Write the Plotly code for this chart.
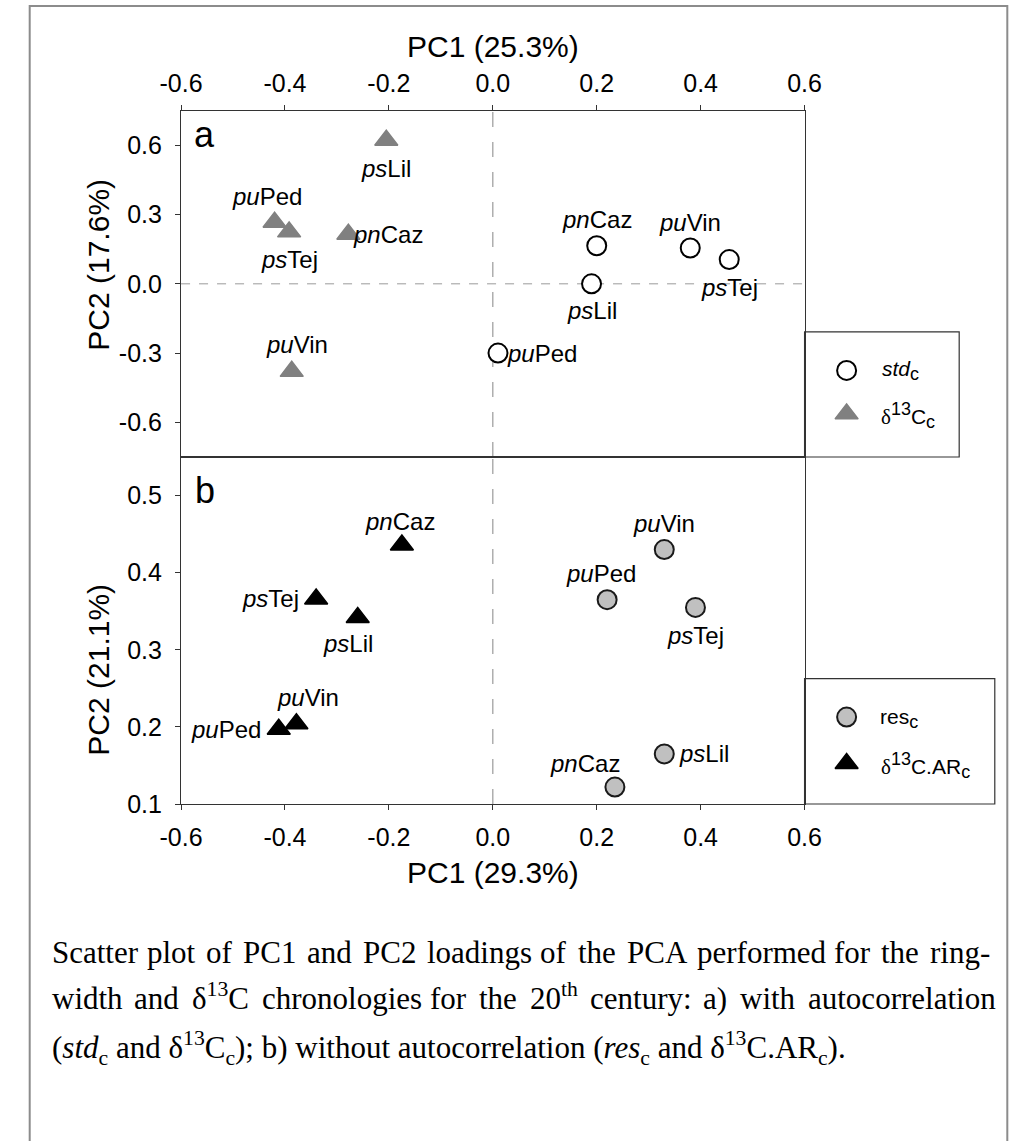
import re
import plotly.graph_objects as go

W, H = 1032, 1141

# ---- PCA loadings, panel a (with autocorrelation) ----
std_sites = ["pnCaz", "psLil", "puVin", "psTej", "puPed"]
std_pc1 = [0.20, 0.19, 0.38, 0.455, 0.01]
std_pc2 = [0.165, 0.00, 0.155, 0.105, -0.30]

d13_sites = ["psLil", "puPed", "psTej", "pnCaz", "puVin"]
d13_pc1 = [-0.205, -0.420, -0.392, -0.278, -0.387]
d13_pc2 = [0.622, 0.267, 0.225, 0.215, -0.379]

# ---- PCA loadings, panel b (without autocorrelation) ----
res_sites = ["puVin", "puPed", "psTej", "psLil", "pnCaz"]
res_pc1 = [0.33, 0.22, 0.39, 0.33, 0.235]
res_pc2 = [0.43, 0.365, 0.355, 0.165, 0.122]

ar_sites = ["pnCaz", "psTej", "psLil", "puVin", "puPed"]
ar_pc1 = [-0.175, -0.340, -0.260, -0.378, -0.412]
ar_pc2 = [0.436, 0.366, 0.342, 0.204, 0.197]

pc1_ticks = [-0.6, -0.4, -0.2, 0.0, 0.2, 0.4, 0.6]
pc1_labels = ["-0.6", "-0.4", "-0.2", "0.0", "0.2", "0.4", "0.6"]
pc2a_ticks = [-0.6, -0.3, 0.0, 0.3, 0.6]
pc2a_labels = ["-0.6", "-0.3", "0.0", "0.3", "0.6"]
pc2b_ticks = [0.1, 0.2, 0.3, 0.4, 0.5]
pc2b_labels = ["0.1", "0.2", "0.3", "0.4", "0.5"]

# label offsets in pixels (dx, dy; dy positive = upwards)
std_off = [(0, 26), (0, -27), (0, 26), (0, -28), (44, 0)]
d13_off = [(0, -28), (-8, 26), (0, -28), (40, 0), (5, 27)]
res_off = [(0, 26), (-6, 26), (0, -28), (40, 0), (-30, 24)]
ar_off = [(-2, 23), (-46, 0), (-10, -26), (12, 26), (-53, 0)]

SANS = "Liberation Sans, Arial, sans-serif"
SERIF = "Liberation Serif, Times New Roman, serif"

# Times-compatible advance widths (1/1000 em) used to justify the caption
TW = {" ": 250, "a": 444, "b": 500, "c": 444, "d": 500, "e": 444, "f": 333, "g": 500,
      "h": 500, "i": 278, "j": 278, "k": 500, "l": 278, "m": 778, "n": 500, "o": 500,
      "p": 500, "q": 500, "r": 333, "s": 389, "t": 278, "u": 500, "v": 500, "w": 722,
      "x": 500, "y": 500, "z": 444, "A": 722, "C": 667, "P": 556, "R": 667, "S": 556,
      "-": 333, ":": 278, ";": 278, "(": 333, ")": 333, ".": 250, "δ": 494}


def px(x):
    return x / W


def py(y):
    return 1 - y / H


def site_label(s):
    return "<i>%s</i>%s" % (s[:2], s[2:])


def serif_width(word, size):
    total = 0.0
    for part in re.split(r"(<sup>.*?</sup>)", word):
        if part.startswith("<sup>"):
            txt, k = part[5:-6], 0.7
        else:
            txt, k = re.sub(r"<[^>]+>", "", part), 1.0
        total += sum(TW.get(ch, 500) for ch in txt) * k
    return total * size / 1000.0


# plot frame in pixels
X0, X1 = 165.3, 813.3
YA0, YA1 = 112.0, 462.7
YB0, YB1 = 462.7, 814.0

fig = go.Figure()

circle_std = dict(symbol="circle", size=19, color="white", line=dict(color="black", width=2))
tri_d13 = dict(symbol="triangle-up", size=20, color="#808080", line=dict(color="#808080", width=1.5))
circle_res = dict(symbol="circle", size=19, color="#c0c0c0", line=dict(color="#1a1a1a", width=2))
tri_ar = dict(symbol="triangle-up", size=20, color="black", line=dict(color="black", width=1.5))

fig.add_trace(go.Scatter(x=d13_pc1, y=d13_pc2, mode="markers", marker=tri_d13,
                         xaxis="x", yaxis="y", showlegend=False, cliponaxis=False))
fig.add_trace(go.Scatter(x=std_pc1, y=std_pc2, mode="markers", marker=circle_std,
                         xaxis="x", yaxis="y", showlegend=False, cliponaxis=False))
fig.add_trace(go.Scatter(x=ar_pc1, y=ar_pc2, mode="markers", marker=tri_ar,
                         xaxis="x2", yaxis="y2", showlegend=False, cliponaxis=False))
fig.add_trace(go.Scatter(x=res_pc1, y=res_pc2, mode="markers", marker=circle_res,
                         xaxis="x2", yaxis="y2", showlegend=False, cliponaxis=False))

# legend symbols on a full-page pixel axis
fig.add_trace(go.Scatter(x=[857], y=[375], mode="markers", marker=circle_std,
                         xaxis="x3", yaxis="y3", showlegend=False))
fig.add_trace(go.Scatter(x=[857], y=[419], mode="markers", marker=tri_d13,
                         xaxis="x3", yaxis="y3", showlegend=False))
fig.add_trace(go.Scatter(x=[857], y=[726], mode="markers", marker=circle_res,
                         xaxis="x3", yaxis="y3", showlegend=False))
fig.add_trace(go.Scatter(x=[857], y=[773], mode="markers", marker=tri_ar,
                         xaxis="x3", yaxis="y3", showlegend=False))

ann = []


def add_labels(sites, xs, ys, offs, xr, yr):
    for s, x, y, (dx, dy) in zip(sites, xs, ys, offs):
        ann.append(dict(x=x, y=y, xref=xr, yref=yr, text=site_label(s), showarrow=False,
                        xshift=dx, yshift=dy, font=dict(family=SANS, size=24, color="black")))


add_labels(std_sites, std_pc1, std_pc2, std_off, "x", "y")
add_labels(d13_sites, d13_pc1, d13_pc2, d13_off, "x", "y")
add_labels(res_sites, res_pc1, res_pc2, res_off, "x2", "y2")
add_labels(ar_sites, ar_pc1, ar_pc2, ar_off, "x2", "y2")


def page_text(x, y, text, size, family=SANS, xanchor="center", yanchor="middle", angle=0):
    ann.append(dict(x=px(x), y=py(y), xref="paper", yref="paper", text=text, showarrow=False,
                    xanchor=xanchor, yanchor=yanchor, textangle=angle, borderpad=0,
                    font=dict(family=family, size=size, color="black")))


page_text((X0 + X1) / 2, 47, "PC1 (25.3%)", 30)
page_text((X0 + X1) / 2, 883, "PC1 (29.3%)", 30)
page_text(80, 268, "PC2 (17.6%)", 30, angle=-90)
page_text(80, 678, "PC2 (21.1%)", 30, angle=-90)
page_text(190, 136, "a", 36)
page_text(190, 497, "b", 36)

small = '<span style="font-size:18px">%s</span>'
delta = '<span style="font-family:Liberation Serif">δ</span>'
page_text(893, 375, "<i>std</i><sub>" + small % "c" + "</sub>", 21, xanchor="left")
page_text(892, 421, delta + "<sup>" + small % "13" + "</sup>C<sub>" + small % "c" + "</sub>",
          21, xanchor="left")
page_text(891, 727, "res<sub>" + small % "c" + "</sub>", 21, xanchor="left")
page_text(892, 775, delta + "<sup>" + small % "13" + "</sup>C.AR<sub>" + small % "c" + "</sub>",
          21, xanchor="left")

# caption: first two lines justified between the margins, last line left aligned
CAP_SIZE = 31
CAP_LEFT, CAP_RIGHT = 30, 1003
cap_justified = [
    "Scatter plot of PC1 and PC2 loadings of the PCA performed for the ring-",
    "width and δ<sup>13</sup>C chronologies for the 20<sup>th</sup> century: a) with autocorrelation",
]
cap_last = ("(<i>std</i><sub>c</sub> and δ<sup>13</sup>C<sub>c</sub>); b) without autocorrelation "
            "(<i>res</i><sub>c</sub> and δ<sup>13</sup>C.AR<sub>c</sub>).")
CAP_BASE = [983, 1030, 1077]

for line, base in zip(cap_justified, CAP_BASE):
    words = line.split(" ")
    widths = [serif_width(w_, CAP_SIZE) for w_ in words]
    gap = (CAP_RIGHT - CAP_LEFT - sum(widths)) / (len(words) - 1)
    x = CAP_LEFT
    for w_, wd in zip(words, widths):
        page_text(x, base, w_, CAP_SIZE, family=SERIF, xanchor="left", yanchor="bottom")
        x += wd + gap
page_text(CAP_LEFT, CAP_BASE[2] - 16, cap_last, CAP_SIZE, family=SERIF, xanchor="left")

shapes = [
    # outer frame
    dict(type="rect", xref="paper", yref="paper", x0=px(8), x1=px(1024), y0=py(1180), y1=py(6),
         line=dict(color="#8c8c8c", width=2), layer="below"),
    # legend boxes
    dict(type="rect", xref="paper", yref="paper", x0=px(X1), x1=px(974), y0=py(YA1), y1=py(336),
         line=dict(color="#333333", width=1.2)),
    dict(type="rect", xref="paper", yref="paper", x0=px(X1), x1=px(1011), y0=py(YB1), y1=py(687),
         line=dict(color="#333333", width=1.2)),
    # zero reference lines
    dict(type="line", xref="x", yref="y domain", x0=0, x1=0, y0=0, y1=1,
         line=dict(color="#9a9a9a", width=1.2, dash="longdash"), layer="below"),
    dict(type="line", xref="x domain", yref="y", x0=0, x1=1, y0=0, y1=0,
         line=dict(color="#808080", width=0.8, dash="dash"), layer="below"),
    dict(type="line", xref="x2", yref="y2 domain", x0=0, x1=0, y0=0, y1=1,
         line=dict(color="#9a9a9a", width=1.2, dash="longdash"), layer="below"),
]

axis_common = dict(showgrid=False, zeroline=False, showline=True, linecolor="#333333", linewidth=1.2,
                   mirror=True, ticks="outside", ticklen=5, tickwidth=1, tickcolor="#333333",
                   tickfont=dict(family=SANS, size=25, color="black"), tickmode="array",
                   fixedrange=True)

fig.update_layout(
    width=W, height=H, autosize=False,
    margin=dict(l=0, r=0, t=0, b=0, pad=0),
    paper_bgcolor="white", plot_bgcolor="rgba(0,0,0,0)",
    showlegend=False,
    xaxis=dict(axis_common, domain=[px(X0), px(X1)], range=[-0.6, 0.6], tickvals=pc1_ticks,
               ticktext=pc1_labels, side="top", anchor="y", ticklabelstandoff=3),
    yaxis=dict(axis_common, domain=[py(YA1), py(YA0)], range=[-0.75, 0.75], tickvals=pc2a_ticks,
               ticktext=pc2a_labels, anchor="x", ticklabelstandoff=8),
    xaxis2=dict(axis_common, domain=[px(X0), px(X1)], range=[-0.6, 0.6], tickvals=pc1_ticks,
                ticktext=pc1_labels, side="bottom", anchor="y2", ticklabelstandoff=6),
    yaxis2=dict(axis_common, domain=[py(YB1), py(YB0)], range=[0.1, 0.55], tickvals=pc2b_ticks,
                ticktext=pc2b_labels, anchor="x2", ticklabelstandoff=8),
    xaxis3=dict(domain=[0, 1], range=[0, W], visible=False, fixedrange=True, anchor="y3"),
    yaxis3=dict(domain=[0, 1], range=[H, 0], visible=False, fixedrange=True, anchor="x3"),
    annotations=ann,
    shapes=shapes,
)

fig.write_html("out.html", config={"displayModeBar": False})
